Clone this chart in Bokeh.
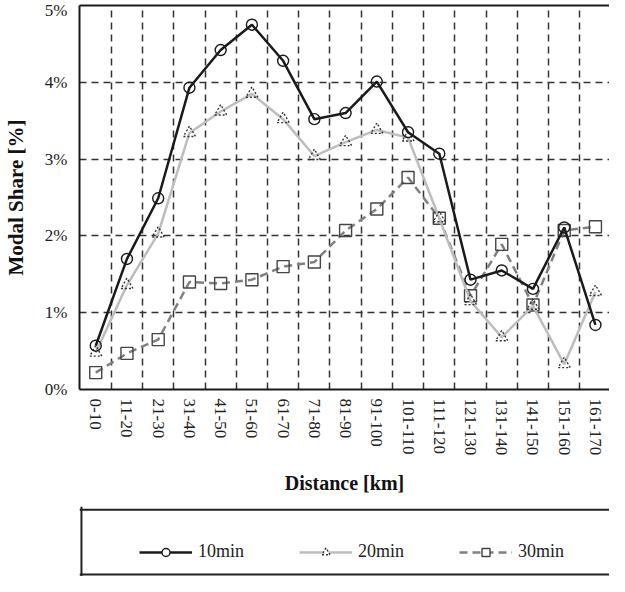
from bokeh.plotting import figure
from bokeh.layouts import column
from bokeh.models import Range1d, FixedTicker, LinearAxis, Legend, LegendItem, Span
from bokeh.embed import file_html
from bokeh.resources import INLINE

categories = ["0-10", "11-20", "21-30", "31-40", "41-50", "51-60", "61-70",
              "71-80", "81-90", "91-100", "101-110", "111-120", "121-130",
              "131-140", "141-150", "151-160", "161-170"]
share_10min = [0.57, 1.70, 2.49, 3.93, 4.42, 4.75, 4.28, 3.52, 3.60, 4.01,
               3.35, 3.07, 1.43, 1.55, 1.31, 2.11, 0.84]
share_20min = [0.48, 1.36, 2.03, 3.34, 3.62, 3.85, 3.52, 3.04, 3.22, 3.38,
               3.28, 2.23, 1.15, 0.68, 1.09, 0.33, 1.27]
share_30min = [0.22, 0.47, 0.65, 1.40, 1.38, 1.43, 1.60, 1.66, 2.07, 2.35,
               2.76, 2.23, 1.22, 1.89, 1.10, 2.07, 2.12]
y_ticks = [0, 1, 2, 3, 4, 5]
y_tick_labels = ["0%", "1%", "2%", "3%", "4%", "5%"]
series_names = ["10min", "20min", "30min"]

x = list(range(len(categories)))
FONT = "Liberation Serif"

STYLE = {
    "10min": dict(color="#1a1a1a", dash="solid", marker="circle", size=11,
                  mline="#1a1a1a", mdash="solid"),
    "20min": dict(color="#bdbdbd", dash="solid", marker="triangle", size=12,
                  mline="#333333", mdash="2 2"),
    "30min": dict(color="#808080", dash="8 5", marker="square", size=12,
                  mline="#444444", mdash="solid"),
}
series_values = {"10min": share_10min, "20min": share_20min, "30min": share_30min}

p = figure(width=609, height=506, output_backend="svg", toolbar_location=None,
           x_range=Range1d(-0.52, 16.45), y_range=Range1d(0, 5),
           min_border_left=71, min_border_right=0, min_border_top=5,
           min_border_bottom=117, outline_line_color=None,
           background_fill_color="white", border_fill_color="white")

# axes
p.xaxis.ticker = FixedTicker(ticks=x)
p.xaxis.major_label_overrides = {i: c for i, c in zip(x, categories)}
p.xaxis.major_label_orientation = "vertical"
p.yaxis.ticker = FixedTicker(ticks=y_ticks)
p.yaxis.major_label_overrides = {t: l for t, l in zip(y_ticks, y_tick_labels)}
for ax in (p.xaxis, p.yaxis):
    ax.major_tick_out = 0
    ax.major_tick_in = 0
    ax.minor_tick_out = 0
    ax.minor_tick_in = 0
    ax.axis_line_color = "#1a1a1a"
    ax.axis_line_width = 2
    ax.major_label_text_font = FONT
    ax.major_label_text_font_size = "17px"
    ax.major_label_text_color = "#222222"
    ax.axis_label_text_font = FONT
    ax.axis_label_text_font_style = "bold"
    ax.axis_label_text_color = "#111111"
p.xaxis.major_label_standoff = 9
p.yaxis.major_label_standoff = 12
p.xaxis.axis_label = "Distance [km]"
p.xaxis.axis_label_text_font_size = "20px"
p.xaxis.axis_label_standoff = 14
p.yaxis.axis_label = "Modal Share [%]"
p.yaxis.axis_label_text_font_size = "21px"
p.yaxis.axis_label_standoff = 14

top_axis = LinearAxis(ticker=FixedTicker(ticks=[]), major_label_text_font_size="0px",
                      major_tick_out=0, major_tick_in=0, minor_tick_out=0,
                      minor_tick_in=0, major_label_standoff=0,
                      axis_line_color="#1a1a1a", axis_line_width=2)
p.add_layout(top_axis, "above")

# grid
p.xgrid.ticker = FixedTicker(ticks=[i + 0.5 for i in range(len(categories) - 1)])
p.ygrid.ticker = FixedTicker(ticks=[1, 2, 3, 4])
for g in (p.xgrid, p.ygrid):
    g.grid_line_color = "#333333"
    g.grid_line_width = 1.5
    g.grid_line_dash = "7 5"

# series (30min first so 10min is on top)
for name in ["30min", "20min", "10min"]:
    st = STYLE[name]
    p.line(x, series_values[name], line_color=st["color"], line_width=2.5,
           line_dash=st["dash"])
    p.scatter(x, series_values[name], marker=st["marker"], size=st["size"],
              line_color=st["mline"], line_width=1.4, line_dash=st["mdash"],
              fill_alpha=0)

# legend panel below the chart
lf = figure(width=609, height=70, output_backend="svg", toolbar_location=None,
            x_range=Range1d(-0.0037, 1), y_range=Range1d(-0.03, 1.05),
            min_border_left=70, min_border_right=0, min_border_top=0,
            min_border_bottom=0, outline_line_color=None,
            background_fill_color="white", border_fill_color="white")
lf.axis.visible = False
lf.grid.visible = False
for loc in (0, 1):
    lf.add_layout(Span(location=loc, dimension="width", line_color="#222222",
                       line_width=2))
lf.add_layout(Span(location=0, dimension="height", line_color="#222222",
                   line_width=2))

items = []
for name in series_names:
    st = STYLE[name]
    r1 = lf.line(x, series_values[name], line_color=st["color"], line_width=2.5,
                 line_dash=st["dash"], visible=False)
    r2 = lf.scatter(x, series_values[name], marker=st["marker"], size=st["size"] - 2,
                    line_color=st["mline"], line_width=1.4, line_dash=st["mdash"],
                    fill_color="white", visible=False)
    items.append(LegendItem(label=name, renderers=[r1, r2]))

legend = Legend(items=items, location=(60, 14), orientation="horizontal", padding=10,
                spacing=41, glyph_width=53, glyph_height=20, label_standoff=6,
                label_width=60, label_text_font=FONT, label_text_font_size="18px",
                label_text_color="#222222", border_line_color=None,
                background_fill_alpha=0, margin=0)
lf.add_layout(legend, "center")

layout = column(p, lf, spacing=0)
open("out.html", "w").write(file_html(layout, INLINE))
